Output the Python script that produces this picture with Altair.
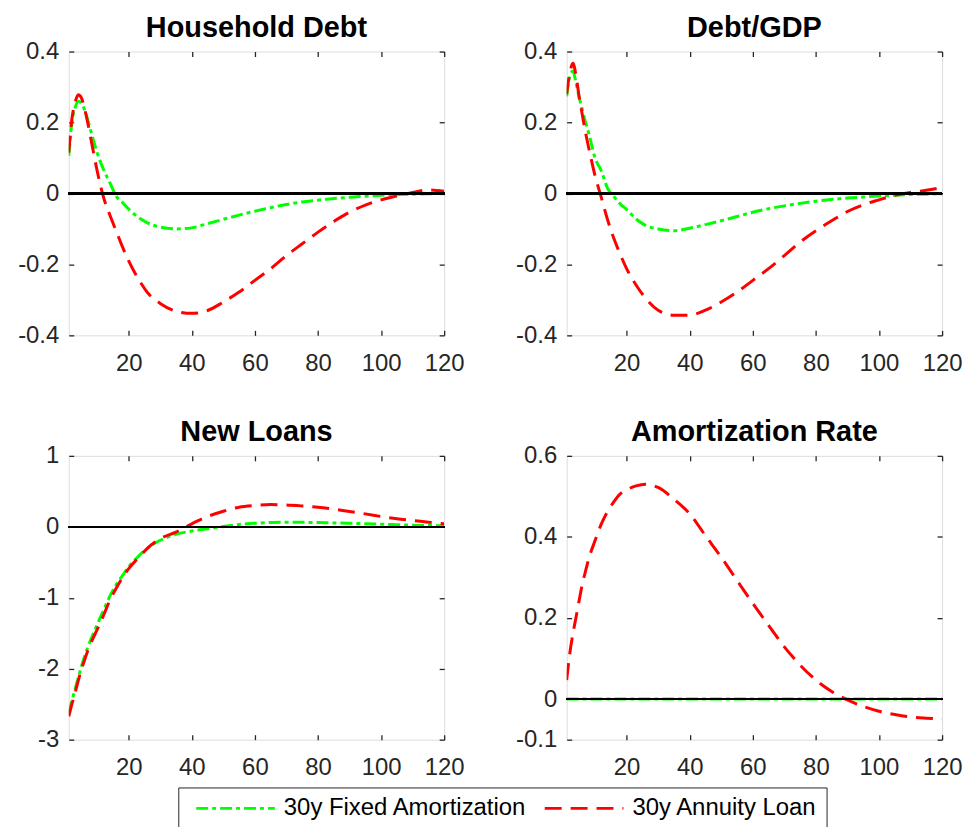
import altair as alt
import pandas as pd

# ---------------- data ----------------
T = [1, 2, 3, 4, 5, 6, 7, 8, 10, 12, 14, 16, 18, 20, 23, 26, 30, 35, 40, 45,
     50, 55, 60, 65, 70, 75, 80, 85, 90, 95, 100, 105, 110, 115, 120]

SERIES = ["30y Fixed Amortization", "30y Annuity Loan"]

HD_FIXED = [0.106, 0.20, 0.241, 0.26, 0.255, 0.236, 0.208, 0.176, 0.115, 0.068,
            0.031, -0.007, -0.025, -0.044, -0.067, -0.083, -0.095, -0.100, -0.097, -0.085,
            -0.073, -0.061, -0.050, -0.040, -0.031, -0.024, -0.019, -0.014, -0.011, -0.008,
            -0.005, -0.003, -0.002, -0.001, 0.0]
HD_ANNUITY = [0.115, 0.21, 0.255, 0.278, 0.27, 0.24, 0.20, 0.155, 0.064, -0.01,
              -0.06, -0.105, -0.15, -0.19, -0.24, -0.28, -0.31, -0.332, -0.338, -0.33,
              -0.306, -0.278, -0.245, -0.212, -0.175, -0.142, -0.109, -0.079, -0.053, -0.033,
              -0.018, -0.007, 0.003, 0.010, 0.006]

DG_FIXED = [0.274, 0.33, 0.345, 0.31, 0.27, 0.235, 0.20, 0.17, 0.10, 0.063,
            0.014, -0.009, -0.03, -0.045, -0.072, -0.09, -0.10, -0.105, -0.098, -0.088,
            -0.077, -0.065, -0.053, -0.043, -0.035, -0.028, -0.022, -0.017, -0.013, -0.010,
            -0.007, -0.005, -0.003, -0.002, 0.0]
DG_ANNUITY = [0.28, 0.34, 0.367, 0.33, 0.27, 0.22, 0.171, 0.128, 0.05, -0.012,
              -0.075, -0.128, -0.172, -0.212, -0.258, -0.295, -0.329, -0.343, -0.343, -0.329,
              -0.306, -0.278, -0.245, -0.212, -0.175, -0.137, -0.105, -0.077, -0.051, -0.032,
              -0.018, -0.005, 0.003, 0.009, 0.017]

NL_FIXED = [-2.62, -2.45, -2.29, -2.13, -1.97, -1.83, -1.70, -1.59, -1.38, -1.18,
            -0.98, -0.82, -0.69, -0.565, -0.42, -0.30, -0.19, -0.107, -0.06, -0.028,
            0.005, 0.033, 0.05, 0.06, 0.065, 0.063, 0.06, 0.055, 0.05, 0.043,
            0.037, 0.03, 0.023, 0.018, 0.014]
NL_ANNUITY = [-2.67, -2.50, -2.34, -2.17, -2.01, -1.88, -1.75, -1.64, -1.45, -1.25,
              -1.04, -0.87, -0.72, -0.59, -0.44, -0.30, -0.168, -0.075, 0.042, 0.145,
              0.22, 0.276, 0.30, 0.313, 0.308, 0.294, 0.276, 0.248, 0.215, 0.182,
              0.145, 0.112, 0.089, 0.065, 0.042]

AR_FIXED = [0.0] * 35
AR_ANNUITY = [0.047, 0.113, 0.162, 0.203, 0.245, 0.285, 0.316, 0.346, 0.391, 0.432,
              0.463, 0.487, 0.506, 0.516, 0.526, 0.530, 0.522, 0.493, 0.457, 0.403,
              0.350, 0.293, 0.236, 0.182, 0.129, 0.084, 0.047, 0.019, -0.002, -0.018,
              -0.030, -0.038, -0.044, -0.047, -0.049]

X_TICKS = [20, 40, 60, 80, 100, 120]

# ---------------- style ----------------
FONT = "Liberation Sans"
TXT = "#262626"
COLORS = ["#00FF00", "#FF0000"]
DASHES = [[12, 4, 4, 4], [17, 9]]
W, H = 377, 285
TICK_FS = 24

legend = alt.Legend(
    title=None, orient="none", legendX=110, legendY=739, direction="horizontal",
    symbolType="M-0.3,0L7.6,0", symbolSize=400, symbolStrokeWidth=3,
    labelFont=FONT, labelFontSize=24, labelColor="black", labelLimit=600,
    labelOffset=73, columnPadding=8, padding=9,
    strokeColor=TXT, fillColor="white",
)


def lab_expr(fmt):
    return ("datum.value == 0 ? '0' : (datum.value < 0 ? '-' : '') + "
            "format(abs(datum.value), '%s')" % fmt)


def panel(title, fixed, annuity, ydom, yvals, yfmt):
    df = pd.DataFrame({
        "t": T + T,
        "value": fixed + annuity,
        "series": [SERIES[0]] * len(T) + [SERIES[1]] * len(T),
    })
    xs = alt.Scale(domain=[1, 120], nice=False, zero=False)
    ys = alt.Scale(domain=ydom, nice=False, zero=False)
    base = alt.Chart(df)
    lines = base.mark_line(strokeWidth=3, interpolate="monotone", clip=True).encode(
        x=alt.X("t:Q", scale=xs, axis=alt.Axis(
            values=X_TICKS, orient="bottom", offset=-5, tickSize=5, tickWidth=1.3,
            tickColor=TXT, domain=False, grid=False, title=None, labelFlush=False,
            labelPadding=16, labelFont=FONT, labelFontSize=TICK_FS, labelColor=TXT)),
        y=alt.Y("value:Q", scale=ys, axis=alt.Axis(
            values=yvals, orient="left", offset=-5, tickSize=5, tickWidth=1.3,
            tickColor=TXT, domain=False, grid=False, title=None, labelPadding=10,
            labelFont=FONT, labelFontSize=TICK_FS, labelColor=TXT,
            labelExpr=lab_expr(yfmt), minExtent=62, maxExtent=62)),
        color=alt.Color("series:N", sort=SERIES,
                        scale=alt.Scale(domain=SERIES, range=COLORS), legend=legend),
        strokeDash=alt.StrokeDash("series:N", sort=SERIES,
                                  scale=alt.Scale(domain=SERIES, range=DASHES), legend=legend),
    )
    zero = base.mark_rule(color="black", strokeWidth=1.5).encode(
        y=alt.YDatum(0, axis=None),
    )
    ticks = base.mark_point(opacity=0).encode(
        x=alt.X("t:Q", scale=xs, axis=alt.Axis(
            values=X_TICKS, orient="top", offset=-5, tickSize=5, tickWidth=1.3,
            tickColor=TXT, domain=False, grid=False, title=None, labels=False,
            minExtent=0, maxExtent=0)),
        y=alt.Y("value:Q", scale=ys, axis=alt.Axis(
            values=yvals, orient="right", offset=-5, tickSize=5, tickWidth=1.3,
            tickColor=TXT, domain=False, grid=False, title=None, labels=False,
            minExtent=0, maxExtent=0)),
    )
    return alt.layer(lines, zero, ticks).resolve_axis(
        x="independent", y="independent"
    ).properties(
        width=W, height=H,
        title=alt.Title(title, font=FONT, fontSize=29, fontWeight="bold",
                        color="black", offset=-3, anchor="middle", frame="group"),
    )


p1 = panel("Household Debt", HD_FIXED, HD_ANNUITY, [-0.4, 0.4], [-0.4, -0.2, 0, 0.2, 0.4], ".1f")
p2 = panel("Debt/GDP", DG_FIXED, DG_ANNUITY, [-0.4, 0.4], [-0.4, -0.2, 0, 0.2, 0.4], ".1f")
p3 = panel("New Loans", NL_FIXED, NL_ANNUITY, [-3, 1], [-3, -2, -1, 0, 1], ".0f")
p4 = panel("Amortization Rate", AR_FIXED, AR_ANNUITY, [-0.1, 0.6], [-0.1, 0, 0.2, 0.4, 0.6], ".1f")

chart = alt.concat(p1, p2, p3, p4, columns=2, spacing={"row": 41, "column": 44}).properties(
    padding={"left": 3, "top": 3, "right": 0, "bottom": 0}
).configure_view(stroke=TXT, strokeWidth=1.3).configure(background="white")

chart.save("out.html", embed_options={"renderer": "svg", "actions": False})
